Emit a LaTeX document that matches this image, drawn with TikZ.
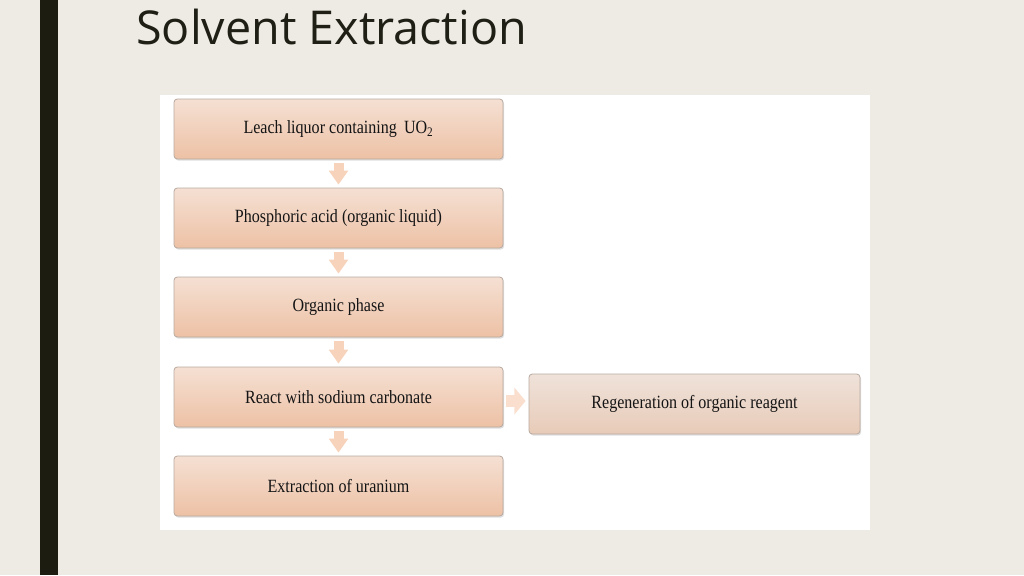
\documentclass[tikz,border=0pt]{standalone}
\usepackage{fontspec}
\setmainfont{Liberation Serif}
\newfontfamily\titlefont{Open Sans}
\newfontfamily\boxfont[FakeStretch=0.86]{Liberation Serif}
\usetikzlibrary{shadows,arrows.meta,calc}
\definecolor{bgcol}{HTML}{EEEBE4}
\definecolor{barcol}{HTML}{1C1C10}
\definecolor{titlecol}{HTML}{1F1F16}
\definecolor{boxtop}{HTML}{F5E0D3}
\definecolor{boxbot}{HTML}{EDC1A5}
\definecolor{rboxtop}{HTML}{EFE2DA}
\definecolor{rboxbot}{HTML}{E8CBB8}
\definecolor{boxline}{HTML}{B9AAA0}
\definecolor{arrowcol}{HTML}{F8D3BB}
\definecolor{rarrowcol}{HTML}{FADFCE}
\definecolor{textcol}{HTML}{141414}
\tikzset{
  stepbox/.style={draw=boxline, line width=0.6pt, rounded corners=2.5pt,
    top color=boxtop, bottom color=boxbot,
    minimum width=246.75pt, minimum height=45pt, inner sep=0pt,
    font=\boxfont\fontsize{14}{16}\selectfont, text=textcol,
    drop shadow={opacity=0.25, shadow xshift=0.8pt, shadow yshift=-1.2pt}},
  sidebox/.style={stepbox, top color=rboxtop, bottom color=rboxbot, minimum width=248.25pt},
  downarrow/.style={draw=arrowcol, line width=7.5pt,
    -{Triangle[width=14pt,length=10.5pt]}, shorten <=2.5pt, shorten >=2.25pt},
  rightarrow/.style={draw=rarrowcol, line width=9pt,
    -{Triangle[width=20pt,length=8.5pt]}, shorten <=2.25pt, shorten >=2.25pt}
}
\begin{document}
\begin{tikzpicture}[x=0.75pt,y=-0.75pt]
\useasboundingbox (0,0) rectangle (1024,575);
\fill[bgcol] (0,0) rectangle (1024,575);
\fill[barcol] (40,0) rectangle (58,575);
\node[anchor=base west, inner sep=0pt, text=titlecol, font=\titlefont\fontsize{35}{40}\selectfont] (title) at (136,44) {Solvent Extraction};
\fill[white] (160,95) rectangle (870,530);
\node[stepbox] (b1) at (338.5,129) {Leach liquor containing\, UO\textsubscript{2}};
\node[stepbox] (b2) at (338.5,218) {Phosphoric acid (organic liquid)};
\node[stepbox] (b3) at (338.5,307) {Organic phase};
\node[stepbox] (b4) at (338.5,397) {React with sodium carbonate};
\node[stepbox] (b5) at (338.5,486) {Extraction of uranium};
\node[sidebox] (b6) at (694.5,404) {Regeneration of organic reagent};
\draw[downarrow] (b1.south) -- (b2.north);
\draw[downarrow] (b2.south) -- (b3.north);
\draw[downarrow] (b3.south) -- (b4.north);
\draw[downarrow] (b4.south) -- (b5.north);
\draw[rightarrow] ([yshift=-3pt]b4.east) -- ([yshift=-3pt]b4.east -| b6.west);
\end{tikzpicture}
\end{document}
